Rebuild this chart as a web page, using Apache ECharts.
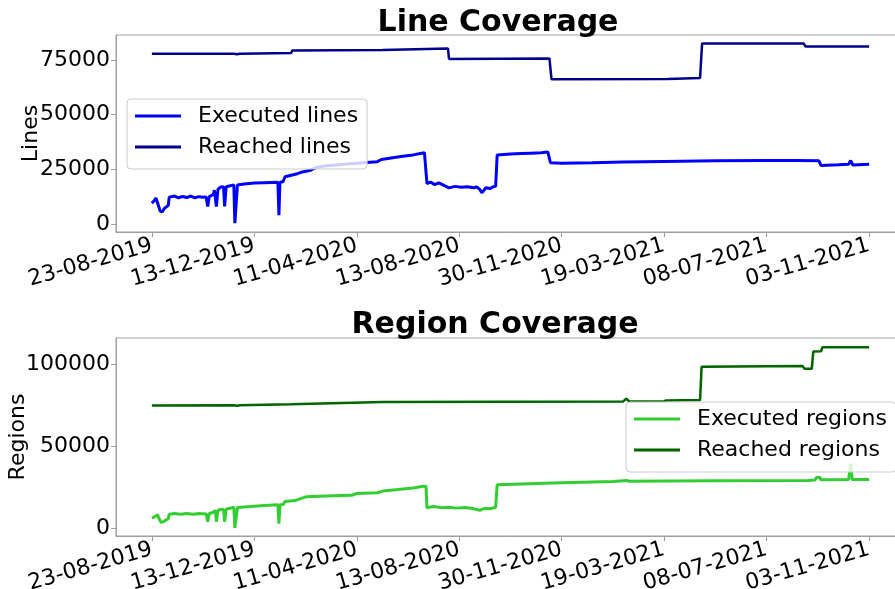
<!DOCTYPE html>
<html>
<head>
<meta charset="utf-8">
<script src="https://cdn.jsdelivr.net/npm/echarts@6/dist/echarts.min.js"></script>
<style>
html,body{margin:0;padding:0;background:#fff;}
#chart{width:895px;height:589px;}
</style>
</head>
<body>
<div id="chart"></div>
<script>
// x positions are in "tick index" units: 0 = first tick label, 7 = last tick label
const tickLabels = ['23-08-2019','13-12-2019','11-04-2020','13-08-2020','30-11-2020','19-03-2021','08-07-2021','03-11-2021'];
const tickPositions = [0,1,2,3,4,5,6,7];
const lineTicks = [0, 25000, 50000, 75000];
const regionTicks = [0, 50000, 100000];

const executedLines = [
[0.00,9500],[0.02,10500],[0.04,11900],[0.06,9000],[0.08,6000],[0.10,5500],[0.12,7000],[0.14,7800],[0.16,8500],
[0.17,12300],[0.22,12800],[0.26,12000],[0.30,12600],[0.34,12100],[0.38,12800],[0.42,12000],[0.46,12500],[0.50,12200],
[0.53,12400],[0.545,8000],[0.56,12500],[0.60,13500],[0.61,15500],[0.62,15800],[0.63,8000],[0.645,15800],[0.67,16900],
[0.70,17000],[0.71,8000],[0.725,17000],[0.74,17800],[0.80,17900],[0.81,400],[0.825,400],[0.835,17800],[0.90,18300],
[1.00,18700],[1.10,18900],[1.23,19100],[1.24,4000],[1.25,19100],[1.28,19300],[1.30,21600],[1.35,22200],[1.42,23000],
[1.47,23800],[1.55,24600],[1.61,26000],[1.70,26600],[1.80,27000],[1.90,27400],[2.03,27900],[2.20,28500],[2.24,29500],
[2.35,30300],[2.45,31000],[2.55,31600],[2.66,32600],[2.675,32600],[2.685,18500],[2.72,19200],[2.76,18000],[2.80,18800],
[2.86,17400],[2.90,16500],[2.96,17200],[3.02,16800],[3.08,17000],[3.14,16600],[3.17,17000],[3.20,15800],[3.22,14300],
[3.26,16600],[3.30,16200],[3.33,17000],[3.355,17200],[3.37,31600],[3.50,32000],[3.60,32200],[3.70,32400],[3.80,32600],
[3.865,32900],[3.89,28000],[4.00,27800],[4.30,28000],[4.60,28300],[5.00,28600],[5.50,28900],[6.00,29000],[6.30,29000],
[6.51,28900],[6.53,26800],[6.70,27100],[6.80,27300],[6.82,29000],[6.84,27000],[7.00,27300]
];
const reachedLines = [
[0,77800],[0.80,77900],[0.83,77600],[0.86,77900],[1.36,78200],[1.37,79300],[2.25,79600],[2.26,80000],[2.89,80200],
[2.90,75500],[3.88,75700],[3.90,66200],[5.03,66300],[5.04,66700],[5.35,66800],[5.37,82600],[6.36,82600],[6.38,81200],[7.00,81200]
];
const executedRegions = [
[0.00,6300],[0.02,6800],[0.055,8200],[0.07,6000],[0.09,3600],[0.11,3900],[0.14,5200],[0.16,5800],[0.17,8600],[0.22,9000],
[0.28,8500],[0.34,9000],[0.40,8600],[0.46,9000],[0.53,8700],[0.545,4000],[0.56,9000],[0.60,9800],[0.61,10700],[0.62,10900],
[0.63,4000],[0.645,11000],[0.67,11400],[0.70,11500],[0.71,4000],[0.725,11600],[0.74,12700],[0.80,12800],[0.81,300],[0.825,300],
[0.835,12700],[1.00,13500],[1.10,13900],[1.23,14300],[1.24,2800],[1.25,14300],[1.28,14500],[1.30,16300],[1.40,17000],[1.51,19300],
[1.70,19700],[1.95,20100],[2.00,21200],[2.20,21700],[2.255,22700],[2.40,23600],[2.55,24600],[2.645,25600],[2.675,25700],[2.685,12500],
[2.75,13300],[2.82,12600],[2.90,12900],[2.97,12300],[3.05,12700],[3.12,12200],[3.20,11000],[3.25,12100],[3.30,11900],[3.355,12800],
[3.37,26500],[3.60,27000],[4.00,27800],[4.50,28500],[4.64,29100],[4.66,28700],[5.50,29000],[6.40,29200],[6.47,29400],[6.49,31200],
[6.52,31000],[6.53,29600],[6.80,29800],[6.82,39500],[6.835,29700],[7.00,29700]
];
const reachedRegions = [
[0,74900],[0.80,75000],[0.83,74700],[0.86,75000],[1.36,75600],[1.37,76700],[2.25,77000],[2.26,77500],[4.60,77400],[4.63,79000],
[4.66,77400],[5.00,77500],[5.02,78000],[5.35,78200],[5.365,98600],[6.35,99000],[6.37,97300],[6.44,97300],[6.455,107800],[6.53,108000],
[6.545,110400],[7.00,110400]
];

const FONT = '"DejaVu Sans", sans-serif';
const GRAY = '#a0a0a0';

function xAxisCfg(gi){
  return {
    type:'value', gridIndex:gi, min:-0.35, max:7.35,
    axisLine:{show:true, onZero:false, lineStyle:{color:GRAY, width:1}},
    axisTick:{show:true, customValues:tickPositions, length:5, lineStyle:{color:GRAY}},
    splitLine:{show:false},
    axisLabel:{customValues:tickPositions, rotate:16, margin:13, fontFamily:FONT, fontSize:22, color:'#000',
      formatter:function(v){ return tickLabels[Math.round(v)]; }}
  };
}
function yAxisCfg(gi, min, max, ticks, name, gap){
  return {
    type:'value', gridIndex:gi, min:min, max:max,
    name:name, nameLocation:'middle', nameGap:gap, nameRotate:90, nameMoveOverlap:false,
    nameTextStyle:{fontFamily:FONT, fontSize:22, color:'#000'},
    axisLine:{show:true, onZero:false, lineStyle:{color:GRAY, width:1}},
    axisTick:{show:true, customValues:ticks, length:5, lineStyle:{color:GRAY}},
    splitLine:{show:false},
    axisLabel:{customValues:ticks, margin:6, fontFamily:FONT, fontSize:22, color:'#000',
      formatter:function(v){ return String(v); }}
  };
}
function legendCfg(names, left, top){
  return {
    data:names, orient:'vertical', left:left, top:top,
    icon:'rect', itemWidth:46, itemHeight:3, itemGap:5,
    padding:[4,9,9,8],
    backgroundColor:'rgba(255,255,255,0.8)', borderColor:'#cccccc', borderWidth:1, borderRadius:4,
    textStyle:{fontFamily:FONT, fontSize:22, color:'#000', lineHeight:26, padding:[0,0,0,12]},
    z:10
  };
}
function gridCfg(top, height){
  return {left:116, top:top, width:789, height:height, show:true, borderColor:GRAY, borderWidth:1,
    backgroundColor:'transparent', containLabel:false, outerBoundsMode:'none'};
}

const chart = echarts.init(document.getElementById('chart'), null, {renderer:'canvas'});
chart.setOption({
  animation:false,
  backgroundColor:'#ffffff',
  title:[
    {text:'Line Coverage', left:493, top:3, textAlign:'center', textStyle:{fontFamily:FONT, fontSize:30, fontWeight:'bold', color:'#000'}},
    {text:'Region Coverage', left:490, top:305, textAlign:'center', textStyle:{fontFamily:FONT, fontSize:30, fontWeight:'bold', color:'#000'}}
  ],
  grid:[gridCfg(35,197), gridCfg(338,198)],
  xAxis:[xAxisCfg(0), xAxisCfg(1)],
  yAxis:[
    yAxisCfg(0, -3660, 86430, lineTicks, 'Lines', 74),
    yAxisCfg(1, -4700, 116070, regionTicks, 'Regions', 87)
  ],
  legend:[
    legendCfg(['Executed lines','Reached lines'], 127, 99),
    legendCfg(['Executed regions','Reached regions'], 626, 402)
  ],
  series:[
    {name:'Executed lines', type:'line', xAxisIndex:0, yAxisIndex:0, data:executedLines, showSymbol:false, symbol:'none',
      lineStyle:{color:'#0000ff', width:3}, itemStyle:{color:'#0000ff'}},
    {name:'Reached lines', type:'line', xAxisIndex:0, yAxisIndex:0, data:reachedLines, showSymbol:false, symbol:'none',
      lineStyle:{color:'#00008b', width:2.5}, itemStyle:{color:'#00008b'}},
    {name:'Executed regions', type:'line', xAxisIndex:1, yAxisIndex:1, data:executedRegions, showSymbol:false, symbol:'none',
      lineStyle:{color:'#32cd32', width:3}, itemStyle:{color:'#32cd32'}},
    {name:'Reached regions', type:'line', xAxisIndex:1, yAxisIndex:1, data:reachedRegions, showSymbol:false, symbol:'none',
      lineStyle:{color:'#006400', width:2.5}, itemStyle:{color:'#006400'}}
  ]
});
</script>
</body>
</html>
